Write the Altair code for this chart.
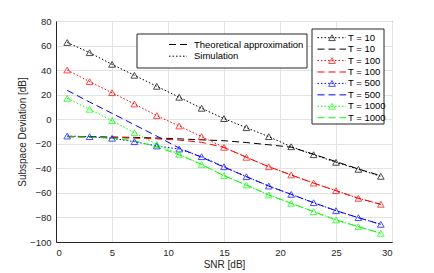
import altair as alt
import pandas as pd

snr = [1, 3, 5, 7, 9, 11, 13, 15, 17, 19, 21, 23, 25, 27, 29]
T_values = ["10", "100", "500", "1000"]
colors = ["#000000", "#ff0000", "#0000ff", "#00ff00"]
x_ticks = [0, 5, 10, 15, 20, 25, 30]
y_ticks = [-100, -80, -60, -40, -20, 0, 20, 40, 60, 80]

sim = {
    "10":   [62.5, 54.2, 44.7, 35.8, 26.8, 17.9, 8.9, 0.5, -6.9, -14.2, -22.4, -28.9, -35.1, -40.8, -46.5],
    "100":  [40.1, 30.6, 21.6, 12.4, 2.9, -5.5, -14.2, -22.9, -31.0, -38.7, -45.4, -52.0, -58.2, -64.4, -69.3],
    "500":  [-13.7, -14.2, -15.5, -18.3, -21.8, -24.3, -30.5, -38.7, -46.8, -54.4, -61.2, -68.0, -74.5, -80.2, -85.6],
    "1000": [17.0, 8.1, -1.2, -11.0, -20.5, -28.6, -36.8, -46.0, -53.6, -61.7, -68.5, -75.3, -82.0, -87.5, -92.9],
}
theory = {
    "10":   [-14.0, -14.2, -14.5, -14.8, -15.3, -16.0, -16.8, -17.5, -19.0, -20.8, -22.8, -28.5, -34.5, -40.5, -46.0],
    "100":  [-14.3, -14.6, -15.0, -15.4, -16.0, -17.0, -18.8, -23.0, -31.0, -38.7, -45.4, -52.0, -58.2, -64.4, -69.3],
    "500":  [23.5, 14.0, 4.8, -4.5, -13.8, -23.5, -31.0, -39.0, -46.8, -54.4, -61.2, -68.0, -74.5, -80.2, -85.6],
    "1000": [-14.2, -14.6, -15.5, -17.5, -22.5, -29.0, -36.8, -46.0, -53.6, -61.7, -68.5, -75.3, -82.0, -87.5, -92.9],
}

rows = []
for t in T_values:
    for i, s in enumerate(snr):
        rows.append({"snr": s, "val": sim[t][i], "T": t, "kind": "sim"})
        rows.append({"snr": s, "val": theory[t][i], "T": t, "kind": "theory"})
df = pd.DataFrame(rows)

FONT = "Liberation Sans"
color_scale = alt.Scale(domain=T_values, range=colors)
dash_scale = alt.Scale(domain=["theory", "sim"], range=[[7, 4], [1.5, 2]])
xs = alt.Scale(domain=[0, 30], nice=False)
ys = alt.Scale(domain=[-100, 80], nice=False)

lines = alt.Chart(df).mark_line(strokeWidth=1, clip=True).encode(
    x=alt.X("snr:Q", scale=xs, axis=alt.Axis(values=x_ticks, title="SNR [dB]")),
    y=alt.Y("val:Q", scale=ys, axis=alt.Axis(values=y_ticks, title="Subspace Deviation [dB]")),
    color=alt.Color("T:N", scale=color_scale, legend=None),
    strokeDash=alt.StrokeDash("kind:N", scale=dash_scale, legend=None),
    detail="kind:N",
)
points = alt.Chart(df[df.kind == "sim"]).mark_point(
    shape="triangle-up", filled=False, size=45, strokeWidth=1
).encode(
    x=alt.X("snr:Q", scale=xs, axis=None),
    y=alt.Y("val:Q", scale=ys, axis=None),
    color=alt.Color("T:N", scale=color_scale, legend=None),
)

# Legend 1 (line style)
leg1_labels = ["Theoretical approximation", "Simulation"]
leg1_kinds = ["theory", "sim"]
leg1 = pd.DataFrame({
    "label": leg1_labels,
    "kind": leg1_kinds,
    "ly": [23.5 + 11.7 * i for i in range(2)],
    "lx1": [113] * 2, "lx2": [131] * 2, "tx": [138] * 2,
})
box1 = alt.Chart(pd.DataFrame({"a": [0]})).mark_rect(
    fill="white", stroke="#262626", strokeWidth=1
).encode(x=alt.value(81), x2=alt.value(251), y=alt.value(13), y2=alt.value(47))
leg1_lines = alt.Chart(leg1).mark_rule(strokeWidth=1, color="black").encode(
    x=alt.X("lx1:Q", scale=None, axis=None), x2="lx2:Q",
    y=alt.Y("ly:Q", scale=None, axis=None),
    strokeDash=alt.StrokeDash("kind:N", scale=dash_scale, legend=None),
)
leg1_text = alt.Chart(leg1).mark_text(align="left", baseline="middle", fontSize=9.5, font=FONT, color="#000").encode(
    x=alt.X("tx:Q", scale=None, axis=None), y=alt.Y("ly:Q", scale=None, axis=None), text="label:N")

# Legend 2 (T values)
leg2_rows = []
for i, t in enumerate(T_values):
    for j, k in enumerate(["sim", "theory"]):
        n = 2 * i + j
        leg2_rows.append({"T": t, "kind": k, "label": "T = " + t,
                          "ly": 16.7 + 11.43 * n, "lx1": 261.5, "lx2": 290, "px": 276, "tx": 292})
leg2 = pd.DataFrame(leg2_rows)
box2 = alt.Chart(pd.DataFrame({"a": [0]})).mark_rect(
    fill="white", stroke="#262626", strokeWidth=1
).encode(x=alt.value(256), x2=alt.value(328), y=alt.value(8), y2=alt.value(103))
leg2_lines = alt.Chart(leg2).mark_rule(strokeWidth=1).encode(
    x=alt.X("lx1:Q", scale=None, axis=None), x2="lx2:Q",
    y=alt.Y("ly:Q", scale=None, axis=None),
    color=alt.Color("T:N", scale=color_scale, legend=None),
    strokeDash=alt.StrokeDash("kind:N", scale=dash_scale, legend=None),
)
leg2_pts = alt.Chart(leg2[leg2.kind == "sim"]).mark_point(
    shape="triangle-up", filled=False, size=45, strokeWidth=1
).encode(
    x=alt.X("px:Q", scale=None, axis=None), y=alt.Y("ly:Q", scale=None, axis=None),
    color=alt.Color("T:N", scale=color_scale, legend=None),
)
leg2_text = alt.Chart(leg2).mark_text(align="left", baseline="middle", fontSize=9.5, font=FONT, color="#000").encode(
    x=alt.X("tx:Q", scale=None, axis=None), y=alt.Y("ly:Q", scale=None, axis=None), text="label:N")

chart = alt.layer(
    lines, points, box1, leg1_lines, leg1_text, box2, leg2_lines, leg2_pts, leg2_text
).resolve_scale(x="independent", y="independent").properties(
    width=336, height=221,
    autosize=alt.AutoSizeParams(type="none"),
    padding={"left": 48, "top": 13, "right": 34, "bottom": 36},
).configure_view(stroke="#262626", strokeWidth=1).configure_axis(
    labelFont=FONT, titleFont=FONT, labelFontSize=9.5, titleFontSize=10,
    labelColor="#262626", titleColor="#262626", titleFontWeight="normal",
    gridColor="#e3e3e3", gridWidth=1, domainColor="#262626", tickColor="#262626",
    ticks=False, labelPadding=5,
).configure_axisX(titlePadding=3).configure_axisY(titlePadding=2)

chart.save("out.html", embed_options={"renderer": "svg", "actions": False})
